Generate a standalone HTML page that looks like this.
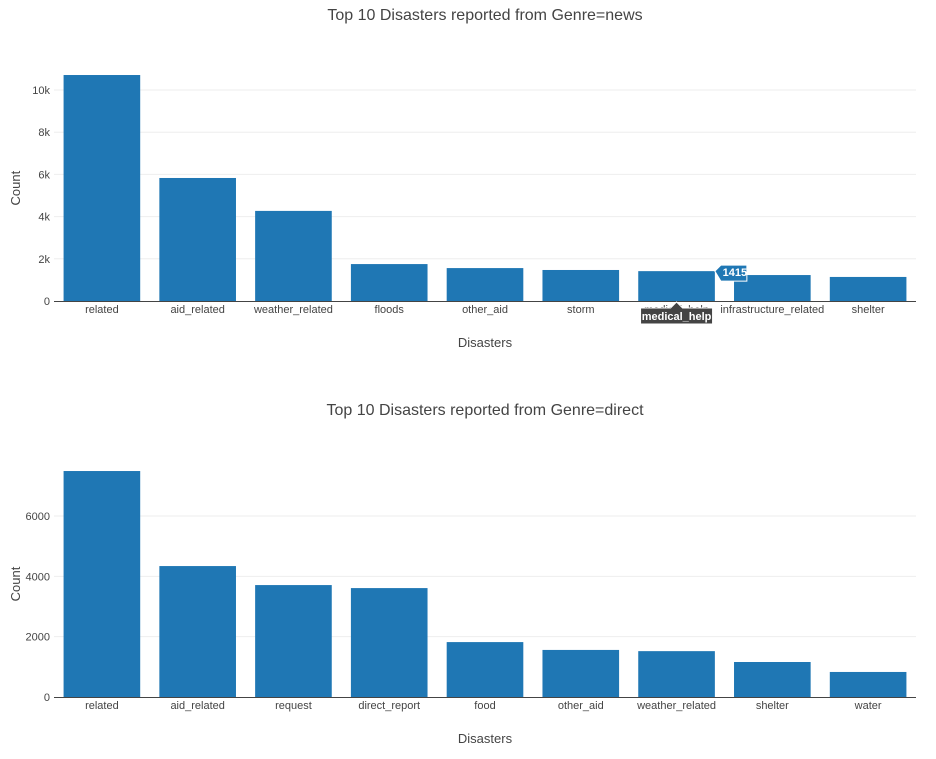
<!DOCTYPE html>
<html><head><meta charset="utf-8"><style>
body{margin:0;background:#fff;font-family:"Liberation Sans",Arial,sans-serif}
svg text{font-family:"Liberation Sans",Arial,sans-serif}
</style></head><body>
<svg id="s" width="936" height="754" xmlns="http://www.w3.org/2000/svg"></svg>
<script>
const newsCats=["related","aid_related","weather_related","floods","other_aid","storm","medical_help","infrastructure_related","shelter"];
const newsVals=[10710,5830,4270,1750,1560,1470,1415,1230,1140];
const newsTicks=[0,2000,4000,6000,8000,10000];
const newsTickLabels=["0","2k","4k","6k","8k","10k"];
const directCats=["related","aid_related","request","direct_report","food","other_aid","weather_related","shelter","water"];
const directVals=[7490,4340,3710,3610,1820,1560,1520,1160,830];
const directTicks=[0,2000,4000,6000];
const directTickLabels=["0","2000","4000","6000"];

const svg=document.getElementById('s');
const NS="http://www.w3.org/2000/svg";
function mk(tag,attrs,parent,txt){const e=document.createElementNS(NS,tag);for(const k in attrs)e.setAttribute(k,attrs[k]);if(txt!==undefined)e.textContent=txt;(parent||svg).appendChild(e);return e;}

function chart(name,title,titleY,cats,vals,ticks,tickLabels,y0,ymax,pxPerUnit){
  const g=mk('g',{});
  
  
  const x0=54,x1=916,band=(x1-x0)/cats.length;
  const Y=v=>y0-v*pxPerUnit;
  const t=mk('text',{x:485,y:titleY,'text-anchor':'middle','font-size':16,fill:'#444'},g,title);
  
  
  ticks.forEach((v,i)=>{
    if(v>0){const l=mk('line',{x1:x0,x2:x1,y1:Y(v),y2:Y(v),stroke:'#eee','stroke-width':1},g);
      
      }
    const tl=mk('text',{x:x0-4,y:Y(v)+4,'text-anchor':'end','font-size':11,fill:'#444'},g,tickLabels[i]);
    
    
  });
  cats.forEach((c,i)=>{
    const bx=x0+band*i+band*0.1,bw=band*0.8;
    const r=mk('rect',{x:bx,y:Y(vals[i]),width:bw,height:vals[i]*pxPerUnit,fill:'#1f77b4'},g);
    
    
    const xl=mk('text',{x:x0+band*(i+0.5),y:y0+12,'text-anchor':'middle','font-size':11,fill:'#444'},g,c);
    
    
  });
  const ax=mk('line',{x1:x0,x2:x1,y1:y0+0.5,y2:y0+0.5,stroke:'#444','stroke-width':1},g);
  
  
  const xt=mk('text',{x:485,y:y0+46,'text-anchor':'middle','font-size':13,fill:'#444'},g,'Disasters');
  
  
  const cy=(y0+Y(ymax))/2;
  const yt=mk('text',{x:20,y:cy,'text-anchor':'middle','font-size':13,fill:'#444',transform:'rotate(-90 20 '+cy+')'},g,'Count');
  
  
  return {x0,band,Y};
}
const topChart=chart('news-chart','Top 10 Disasters reported from Genre=news',20,newsCats,newsVals,newsTicks,newsTickLabels,301,10700,0.0211);
chart('direct-chart','Top 10 Disasters reported from Genre=direct',415,directCats,directVals,directTicks,directTickLabels,697,7490,0.03017);

const hi=6;
const tg=mk('g',{});


const hbx=topChart.x0+topChart.band*hi+topChart.band*0.9, hby=topChart.Y(newsVals[hi]);
mk('path',{d:`M${hbx} ${hby} l6 -6 h26 v16 h-26 z`,fill:'#1f77b4',stroke:'#fff','stroke-width':1},tg);
mk('text',{x:hbx+20,y:hby+5,'text-anchor':'middle','font-size':11,'font-weight':'bold',fill:'#fff'},tg,String(newsVals[hi]));
const hcx=topChart.x0+topChart.band*(hi+0.5);
mk('path',{d:`M${hcx} 302 l6 6 h30 v16 h-72 v-16 h30 z`,fill:'#444',stroke:'#fff','stroke-width':1},tg);
mk('text',{x:hcx,y:320,'text-anchor':'middle','font-size':11,'font-weight':'bold',fill:'#fff'},tg,'medical_help');
</script>
</body></html>
